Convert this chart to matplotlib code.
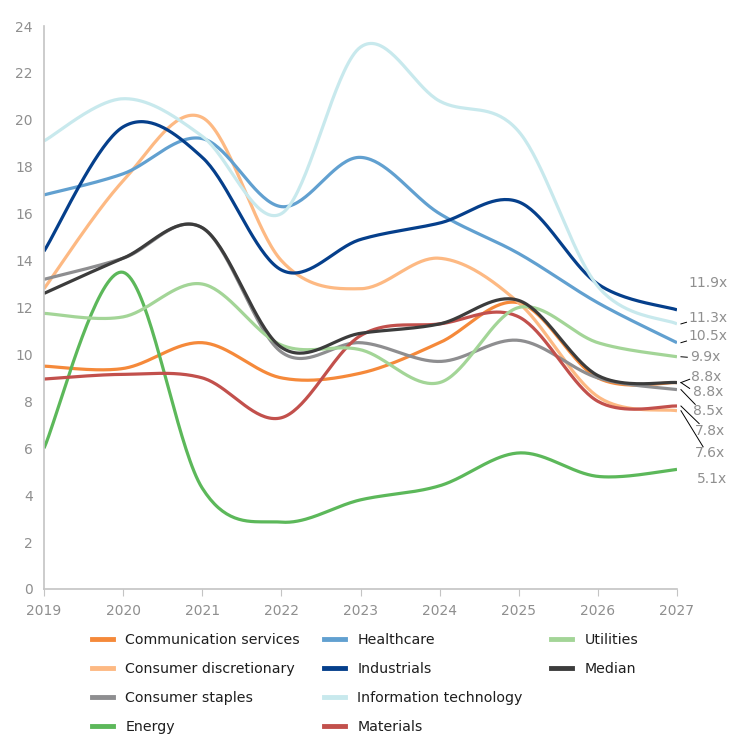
import matplotlib
matplotlib.use("Agg")
import matplotlib.pyplot as plt
from matplotlib.lines import Line2D
import numpy as np

years = [2019, 2020, 2021, 2022, 2023, 2024, 2025, 2026, 2027]

comm_services = [9.5, 9.4, 10.5, 9.0, 9.2, 10.5, 12.2, 9.0, 8.8]
cons_disc = [12.8, 17.4, 20.1, 14.0, 12.8, 14.1, 12.2, 8.2, 7.6]
cons_staples = [13.2, 14.1, 15.4, 10.1, 10.5, 9.7, 10.6, 9.0, 8.5]
energy = [6.0, 13.5, 4.3, 2.85, 3.8, 4.4, 5.8, 4.8, 5.1]
healthcare = [16.8, 17.7, 19.2, 16.3, 18.4, 16.0, 14.3, 12.2, 10.5]
industrials = [14.4, 19.7, 18.4, 13.6, 14.9, 15.6, 16.5, 13.0, 11.9]
info_tech = [19.1, 20.9, 19.3, 16.0, 23.1, 20.8, 19.5, 12.9, 11.3]
materials = [8.95, 9.15, 9.0, 7.3, 10.8, 11.3, 11.6, 8.0, 7.8]
utilities = [11.75, 11.6, 13.0, 10.4, 10.2, 8.8, 12.0, 10.5, 9.9]
median = [12.6, 14.1, 15.4, 10.3, 10.9, 11.3, 12.3, 9.1, 8.8]

names = ["Communication services", "Consumer discretionary", "Consumer staples",
         "Energy", "Healthcare", "Industrials", "Information technology",
         "Materials", "Utilities", "Median"]
series = [comm_services, cons_disc, cons_staples, energy, healthcare,
          industrials, info_tech, materials, utilities, median]
colors = ["#f5893a", "#fdb983", "#8e8e90", "#5cb85a", "#61a0d0",
          "#053f8b", "#c8e9ed", "#c2504c", "#a3d597", "#3c3c3c"]

# end-label placement (label x, label y, leader end or None), per series
label_pos = [
    (2027.20, 8.38, (2027.16, 8.55)),
    (2027.23, 5.80, (2027.33, 6.06)),
    (2027.20, 7.59, (2027.23, 7.87)),
    (2027.25, 4.68, None),
    (2027.14, 10.77, (2027.12, 10.57)),
    (2027.14, 13.06, None),
    (2027.15, 11.57, (2027.12, 11.37)),
    (2027.23, 6.74, (2027.28, 7.05)),
    (2027.17, 9.87, (2027.13, 9.88)),
    (2027.18, 9.02, (2027.16, 8.94)),
]


def smooth(xs, ys, n=40):
    # Excel-style smoothed line: Catmull-Rom segments as cubic Bezier
    pts = np.column_stack([xs, ys]).astype(float)
    out = []
    for i in range(len(pts) - 1):
        p0 = pts[i - 1] if i > 0 else pts[i]
        p1 = pts[i]
        p2 = pts[i + 1]
        p3 = pts[i + 2] if i + 2 < len(pts) else pts[i + 1]
        c1 = p1 + (p2 - p0) / 6
        c2 = p2 - (p3 - p1) / 6
        t = np.linspace(0, 1, n)[:, None]
        seg = (1 - t) ** 3 * p1 + 3 * (1 - t) ** 2 * t * c1 + 3 * (1 - t) * t ** 2 * c2 + t ** 3 * p2
        out.append(seg if i == 0 else seg[1:])
    seg = np.vstack(out)
    return seg[:, 0], seg[:, 1]


fig = plt.figure(figsize=(7.29, 7.36), dpi=100)
ax = fig.add_axes([44 / 729, 1 - 589 / 736, 633 / 729, 563 / 736])

handles = []
for name, vals, c in zip(names, series, colors):
    sx, sy = smooth(years, vals)
    ax.plot(sx, sy, color=c, lw=2.3, solid_capstyle='butt')
    handles.append(Line2D([], [], color=c, lw=3.5))

for vals, (lx, ly, lead) in zip(series, label_pos):
    end = vals[-1]
    ax.text(lx, ly, f"{end:.1f}x", color="#8f8f8f", fontsize=10,
            ha="left", va="center", clip_on=False)
    if lead is not None:
        ax.plot([2027.05, lead[0]], [end, lead[1]], color="black", lw=0.7, clip_on=False)

ax.set_xlim(2019, 2027)
ax.set_ylim(0, 24)
ax.set_xticks(years)
ax.set_yticks(range(0, 25, 2))
for side in ["top", "right"]:
    ax.spines[side].set_visible(False)
for side in ["left", "bottom"]:
    ax.spines[side].set_color("#c4c4c4")
    ax.spines[side].set_linewidth(1.2)
ax.tick_params(axis="x", length=5, color="#c4c4c4", labelcolor="#8f8f8f", labelsize=10, pad=6)
ax.tick_params(axis="y", length=0, labelcolor="#8f8f8f", labelsize=10, pad=8)

# legend: three columns of fixed position (4, 4, 2 entries)
col_x = [92, 324, 551]
col_groups = [range(0, 4), range(4, 8), range(8, 10)]
for x0, idx in zip(col_x, col_groups):
    fig.legend([handles[i] for i in idx], [names[i] for i in idx], loc="upper left",
               bbox_to_anchor=(x0 / 729, 1 - 633 / 736), frameon=False, fontsize=10.2,
               handlelength=1.45, handletextpad=0.9, labelspacing=1.05,
               borderpad=0, borderaxespad=0, labelcolor="#1e1e1e")

fig.savefig("out.png", dpi=100)
